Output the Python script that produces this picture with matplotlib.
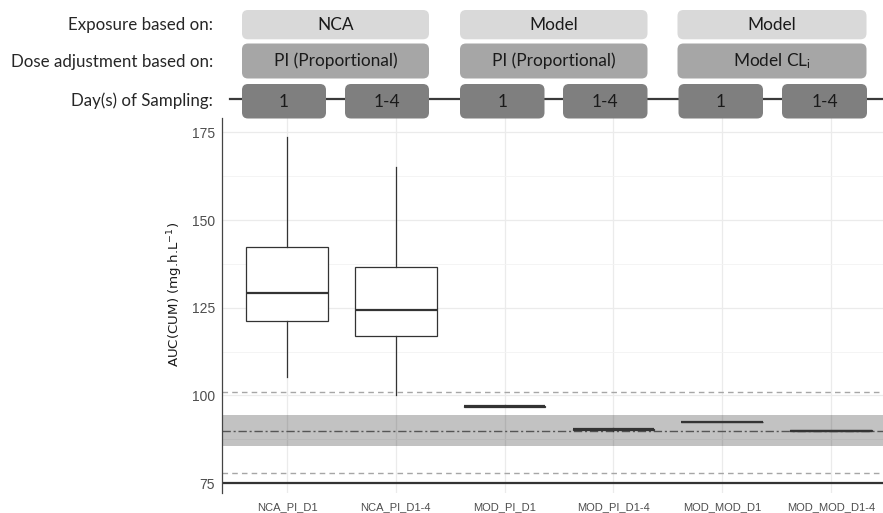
import matplotlib
matplotlib.use("Agg")
import matplotlib.pyplot as plt
from matplotlib.patches import FancyBboxPatch

plt.rcParams['mathtext.default'] = 'regular'

# Boxplot summary values
categories = ['NCA_PI_D1', 'NCA_PI_D1-4', 'MOD_PI_D1', 'MOD_PI_D1-4', 'MOD_MOD_D1', 'MOD_MOD_D1-4']
whislo = [105.3, 100.1, 96.6, 90.0, 92.3, 89.9]
q1 = [121.2, 116.9, 96.8, 90.1, 92.3, 90.0]
med = [129.3, 124.5, 96.9, 90.3, 92.3, 90.0]
q3 = [142.3, 136.7, 97.0, 90.5, 92.3, 90.1]
whishi = [173.6, 165.0, 97.2, 90.6, 92.3, 90.1]

# Reference lines
target = 90
band = (85.5, 94.5)
limits = (78, 101)
floor_line = 75

# Header labels
row_titles = ['Exposure based on:', 'Dose adjustment based on:', 'Day(s) of Sampling:']
exposure = ['NCA', 'Model', 'Model']
adjustment = ['PI (Proportional)', 'PI (Proportional)', 'Model CL$_\\mathregular{i}$']
days = ['1', '1-4', '1', '1-4', '1', '1-4']

W, H = 883, 513
fig = plt.figure(figsize=(W / 100, H / 100), dpi=100)

# main panel (right edge runs past the image, like the original)
x0, x1, ytop, ybot = 221.7, 896.2, 118, 493.3
ax = fig.add_axes([x0 / W, (H - ybot) / H, (x1 - x0) / W, (ybot - ytop) / H])

ax.axhspan(band[0], band[1], color='#000000', alpha=0.24, lw=0, zorder=1)
for v in limits:
    ax.axhline(v, color='#a6a6a6', lw=1.0, ls=(0, (4, 3)), zorder=2)
ax.axhline(target, color='#555555', lw=1.0, ls=(0, (6, 2, 1.5, 2)), zorder=2)
ax.axhline(floor_line, color='#333333', lw=1.6, zorder=2)

stats = []
for i in range(len(categories)):
    stats.append(dict(whislo=whislo[i], q1=q1[i], med=med[i], q3=q3[i], whishi=whishi[i], fliers=[]))
ax.bxp(stats, positions=range(len(categories)), widths=0.75, showcaps=False, patch_artist=True,
       boxprops=dict(facecolor='white', edgecolor='#333333', lw=0.9),
       whiskerprops=dict(color='#333333', lw=0.9),
       medianprops=dict(color='#333333', lw=1.6), zorder=3)

ax.set_xlim(-0.6, 5.6)
ax.set_ylim(72.1, 179.1)
ax.set_yticks([75, 100, 125, 150, 175])
ax.set_yticks([87.5, 112.5, 137.5, 162.5], minor=True)
ax.set_xticks(range(len(categories)))
ax.set_xticklabels(categories, fontsize=8, color='#4d4d4d', family='Liberation Sans')
for t in ax.get_yticklabels():
    t.set_fontsize(10)
    t.set_color('#4d4d4d')
    t.set_family('Liberation Sans')
ax.tick_params(axis='both', which='both', length=0)
ax.tick_params(axis='y', pad=5)
ax.tick_params(axis='x', pad=6)
ax.grid(True, which='major', color='#ebebeb', lw=0.9, zorder=0)
ax.grid(True, which='minor', axis='y', color='#f3f3f3', lw=0.6, zorder=0)
ax.set_axisbelow(True)
for s in ['top', 'right', 'bottom']:
    ax.spines[s].set_visible(False)
ax.spines['left'].set_color('#444444')
ax.spines['left'].set_linewidth(0.9)

ax.set_ylabel('AUC(CUM) (mg.h.L$^{-1}$)', fontsize=9.6, family='Liberation Sans Narrow',
              color='#1a1a1a')
ax.yaxis.set_label_coords(-0.054, 0.53)

# header drawn in pixel coordinates
hd = fig.add_axes([0, 0, 1, 1])
hd.set_xlim(0, W)
hd.set_ylim(H, 0)
hd.axis('off')

hfont = 'Lato'
row_y = [(10, 39.3), (43.5, 78.5), (84, 118.5)]
row_col = ['#d9d9d9', '#a6a6a6', '#7f7f7f']
groups = [(242, 429), (460, 647.5), (677.5, 866.5)]
subs = [(242, 326), (345, 429), (460, 544.5), (563, 647.5), (678.5, 763), (782, 867)]

hd.plot([230, W], [98.5, 98.5], color='#3a3a3a', lw=1.6, zorder=1)

def rbox(xa, xb, ya, yb, col):
    hd.add_patch(FancyBboxPatch((xa, ya), xb - xa, yb - ya,
                                boxstyle='round,pad=0,rounding_size=6',
                                fc=col, ec='none', zorder=2))

for j, lab in enumerate(exposure):
    rbox(groups[j][0], groups[j][1], row_y[0][0], row_y[0][1], row_col[0])
    hd.text(sum(groups[j]) / 2, sum(row_y[0]) / 2, lab, ha='center', va='center',
            fontsize=12.4, family=hfont, color='#1a1a1a', zorder=3)
for j, lab in enumerate(adjustment):
    rbox(groups[j][0], groups[j][1], row_y[1][0], row_y[1][1], row_col[1])
    hd.text(sum(groups[j]) / 2, sum(row_y[1]) / 2, lab, ha='center', va='center',
            fontsize=12.4, family=hfont, color='#1a1a1a', zorder=3)
for j, lab in enumerate(days):
    rbox(subs[j][0], subs[j][1], row_y[2][0], row_y[2][1], row_col[2])
    hd.text(sum(subs[j]) / 2, sum(row_y[2]) / 2 + 1, lab, ha='center', va='center',
            fontsize=12.4, family=hfont, color='#1a1a1a', zorder=3)

for k, t in enumerate(row_titles):
    hd.text(213, [25, 62, 101][k], t, ha='right', va='center', fontsize=12.2,
            family=hfont, color='#262626')

fig.savefig('out.png', dpi=100)
